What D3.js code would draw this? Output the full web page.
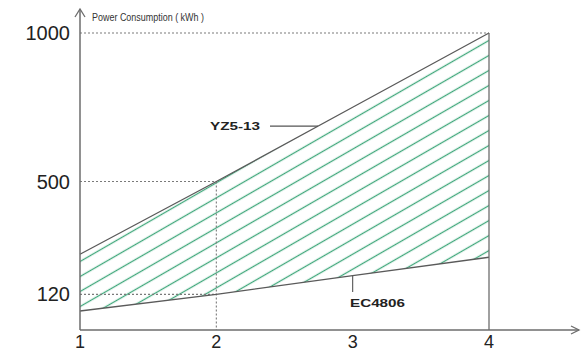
<!DOCTYPE html>
<html><head><meta charset="utf-8">
<script src="https://cdn.jsdelivr.net/npm/d3@7"></script>
<style>body{margin:0;background:#fff}svg{display:block}</style>
</head><body>
<script>
const xValues = [1, 2, 3, 4];
const upperSeries = [255, 500, 750, 1000];   // YZ5-13
const lowerSeries = [64, 120, 183, 245];     // EC4806
const yTickValues = [120, 500, 1000];
const xTickLabels = ["1", "2", "3", "4"];
const seriesNames = ["YZ5-13", "EC4806"];
const axisTitle = "Power Consumption ( kWh )";

const W = 582, H = 354;
const svg = d3.select("body").append("svg").attr("width", W).attr("height", H);
const x = d3.scaleLinear().domain([1, 4]).range([80, 489]);
const y = d3.scaleLinear().domain([0, 1000]).range([330, 33]);

const data = xValues.map((v, i) => ({x: v, hi: upperSeries[i], lo: lowerSeries[i]}));

const defs = svg.append("defs");
const pat = defs.append("pattern").attr("id", "hatch").attr("patternUnits", "userSpaceOnUse")
  .attr("width", 13).attr("height", 13).attr("patternTransform", "rotate(-30)");
pat.append("line").attr("x1", 0).attr("y1", 6.5).attr("x2", 13).attr("y2", 6.5)
  .attr("stroke", "#3fa77a").attr("stroke-width", 1.3);

const area = d3.area().x(d => x(d.x)).y0(d => y(d.lo)).y1(d => y(d.hi));
svg.append("path").datum(data).attr("d", area).attr("fill", "url(#hatch)");

const grey = "#6d6d6d";
const dot = {stroke: "#7a7a7a", "stroke-width": 1.1, "stroke-dasharray": "2,2"};
function dl(x1, y1, x2, y2) {
  const l = svg.append("line").attr("x1", x1).attr("y1", y1).attr("x2", x2).attr("y2", y2);
  Object.entries(dot).forEach(([k, v]) => l.attr(k, v));
}
dl(x(1), y(1000), x(4), y(1000));
dl(x(1), y(500), x(2), y(500));
dl(x(2), y(500), x(2), y(0));
dl(x(1), y(120), x(2), y(120));

const line = key => d3.line().x(d => x(d.x)).y(d => y(d[key]));
svg.append("path").datum(data).attr("d", line("hi")).attr("fill", "none").attr("stroke", "#5a5a5a").attr("stroke-width", 1.3);
svg.append("path").datum(data).attr("d", line("lo")).attr("fill", "none").attr("stroke", "#5a5a5a").attr("stroke-width", 1.3);

svg.append("line").attr("x1", x(4)).attr("y1", y(1000)).attr("x2", x(4)).attr("y2", y(0))
  .attr("stroke", grey).attr("stroke-width", 1.3);

svg.append("line").attr("x1", x(1)).attr("y1", 9).attr("x2", x(1)).attr("y2", y(0)).attr("stroke", grey).attr("stroke-width", 1.5);
svg.append("line").attr("x1", x(1)).attr("y1", y(0)).attr("x2", 579).attr("y2", y(0)).attr("stroke", grey).attr("stroke-width", 1.5);
svg.append("path").attr("d", `M${x(1)-5},17 L${x(1)},9 L${x(1)+5},17`).attr("fill", "none").attr("stroke", grey).attr("stroke-width", 1.3);
svg.append("path").attr("d", `M571,${y(0)-4} L579,${y(0)} L571,${y(0)+4}`).attr("fill", "none").attr("stroke", grey).attr("stroke-width", 1.3);

svg.selectAll(".yt").data(yTickValues).enter().append("text")
  .attr("x", 70).attr("y", d => y(d) + 7).attr("text-anchor", "end")
  .attr("font-family", "Liberation Sans, Arial, sans-serif").attr("font-size", 20).attr("fill", "#222")
  .text(d => d);

svg.selectAll(".xt").data(xValues).enter().append("text")
  .attr("x", d => x(d)).attr("y", 348).attr("text-anchor", "middle")
  .attr("font-family", "Liberation Sans, Arial, sans-serif").attr("font-size", 18).attr("fill", "#222")
  .text((d, i) => xTickLabels[i]);

svg.append("text").attr("x", 92).attr("y", 21)
  .attr("font-family", "Liberation Sans Narrow, Liberation Sans, Arial, sans-serif").attr("font-size", 10).attr("fill", "#333")
  .attr("textLength", 112).attr("lengthAdjust", "spacingAndGlyphs").text(axisTitle);

const xa = 2.746;
const ya = y(upperSeries[1] + (xa - 2) * (upperSeries[2] - upperSeries[1]));
svg.append("line").attr("x1", 270).attr("y1", ya).attr("x2", x(xa)).attr("y2", ya)
  .attr("stroke", "#555").attr("stroke-width", 1.1);
svg.append("text").attr("x", 210).attr("y", 130)
  .attr("font-family", "Liberation Sans, Arial, sans-serif").attr("font-weight", "bold").attr("font-size", 11).attr("fill", "#222")
  .attr("textLength", 50).attr("lengthAdjust", "spacingAndGlyphs").text(seriesNames[0]);

svg.append("line").attr("x1", x(3)).attr("y1", y(lowerSeries[2])).attr("x2", x(3)).attr("y2", 292)
  .attr("stroke", "#555").attr("stroke-width", 1.1);
svg.append("text").attr("x", 350).attr("y", 307)
  .attr("font-family", "Liberation Sans, Arial, sans-serif").attr("font-weight", "bold").attr("font-size", 11).attr("fill", "#222")
  .attr("textLength", 55).attr("lengthAdjust", "spacingAndGlyphs").text(seriesNames[1]);
</script>
</body></html>
